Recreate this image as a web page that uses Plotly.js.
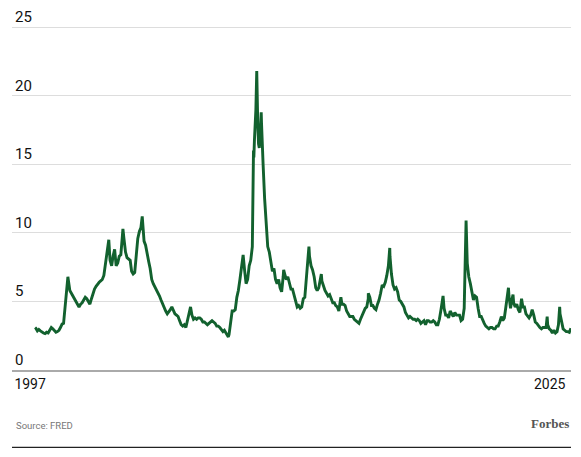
<!DOCTYPE html>
<html><head><meta charset="utf-8">
<script src="https://cdn.plot.ly/plotly-3.0.1.min.js"></script>
<style>html,body{margin:0;padding:0;background:#fff;} #chart{width:581px;height:457px;}</style>
</head><body><div id="chart"></div>
<script>
// High-yield spread (%), mid-month readings, Jan 1997 .. Nov 2025
const firstYear = 1997;
const monthlyValues = [
  3.05,2.85,2.95,2.85,2.75,2.7,2.65,2.75,2.7,2.95,3.1,3.0,        // 1997
  2.85,2.75,2.8,2.9,3.1,3.35,3.4,4.6,5.6,6.6,5.8,5.6,             // 1998
  5.4,5.1,5.0,4.7,4.6,4.8,4.9,5.1,5.3,5.2,5.0,4.8,                // 1999
  5.2,5.6,5.9,6.1,6.3,6.4,6.5,6.6,6.9,7.8,8.6,9.2,                // 2000
  8.0,7.6,8.3,8.8,7.6,7.8,8.3,8.4,9.8,9.6,8.6,8.2,                // 2001
  8.1,8.0,7.2,7.0,7.1,8.2,9.6,10.1,10.4,11.0,9.4,9.1,             // 2002
  8.6,7.9,7.4,6.6,6.3,6.1,5.9,5.6,5.4,5.1,4.8,4.5,                // 2003
  4.3,4.1,4.3,4.4,4.6,4.3,4.1,4.0,3.9,3.6,3.3,3.2,                // 2004
  3.3,3.1,3.6,4.2,4.5,4.0,3.7,3.8,3.7,3.8,3.8,3.7,                // 2005
  3.5,3.5,3.4,3.3,3.4,3.5,3.6,3.5,3.4,3.2,3.2,3.1,                // 2006
  2.9,2.8,2.9,2.7,2.6,2.6,3.6,4.3,4.3,4.4,5.3,5.8,                // 2007
  6.6,7.4,8.2,7.3,6.3,6.6,7.6,8.0,9.0,15.5,18.2,19.5,             // 2008
  16.5,17.0,18.0,15.0,12.5,10.8,9.0,8.6,7.8,7.2,7.4,6.6,          // 2009
  6.3,6.6,6.0,5.7,6.8,7.0,6.6,6.8,6.3,5.9,5.9,5.5,                // 2010
  4.9,4.6,4.7,4.5,4.6,5.2,5.3,6.8,7.6,8.3,7.6,7.3,                // 2011
  6.8,6.0,5.8,6.0,6.7,6.5,6.1,5.8,5.6,5.4,5.5,5.2,                // 2012
  4.9,4.9,4.7,4.6,4.3,5.1,4.8,4.8,4.7,4.3,4.1,3.9,                // 2013
  3.9,3.9,3.7,3.6,3.5,3.4,3.7,4.0,4.3,4.5,4.6,5.2,                // 2014
  5.3,4.7,4.7,4.5,4.4,4.8,5.1,5.6,6.2,6.1,6.4,6.9,                // 2015
  7.6,8.3,7.0,6.2,5.9,6.0,5.7,5.1,5.0,4.8,4.6,4.2,                // 2016
  4.0,3.8,3.9,3.8,3.7,3.7,3.6,3.7,3.6,3.4,3.5,3.6,                // 2017
  3.3,3.6,3.6,3.5,3.5,3.6,3.5,3.3,3.3,3.7,4.4,5.2,                // 2018
  4.5,4.0,4.0,3.8,4.3,4.1,3.9,4.2,4.0,4.0,4.0,3.6,                // 2019
  3.7,4.5,8.5,7.8,6.8,6.3,5.6,5.1,5.4,5.3,4.5,3.9,                // 2020
  3.9,3.6,3.4,3.2,3.1,3.0,3.1,3.1,3.0,3.0,3.2,3.2,                // 2021
  3.5,3.9,3.6,3.8,4.6,5.7,5.4,4.5,5.2,4.9,4.6,4.8,                // 2022
  4.4,4.2,4.9,4.6,4.6,4.1,3.9,3.8,4.0,4.4,4.0,3.5,                // 2023
  3.4,3.2,3.1,3.0,3.1,3.1,3.1,3.3,3.0,2.9,2.7,2.9,                // 2024
  2.7,2.8,3.3,4.1,3.4,3.0,2.9,2.8,2.8,2.75,3.05                   // 2025
];
// Short-lived extremes between the mid-month readings
const spikeDates = ['1996-12-31','1998-10-08','2000-12-21','2001-09-25','2002-10-10','2005-05-18',
  '2007-06-01','2008-03-18','2008-10-08','2008-10-27','2008-11-24','2008-12-11','2008-12-31',
  '2009-01-30','2009-03-09','2009-03-26','2010-05-25','2011-10-04','2012-06-04','2013-06-24',
  '2014-12-16','2016-02-11','2018-12-26','2020-03-23','2022-07-05','2022-10-03','2023-03-20',
  '2024-08-05','2025-04-08'];
const spikeValues = [3.1,6.8,9.5,10.3,11.2,4.6,
  2.41,8.4,16.0,16.8,19.0,21.8,18.0,
  16.2,18.8,16.0,7.3,9.0,7.0,5.3,
  5.6,8.9,5.4,10.9,6.0,5.5,5.2,
  3.9,4.6];
const tickYears = ['1997','2025'];
const yTicks = [0,5,10,15,20,25];

const pts = [];
monthlyValues.forEach((v,i)=>{
  const y = firstYear + Math.floor(i/12);
  const m = String(i%12+1).padStart(2,'0');
  pts.push([`${y}-${m}-15`, v]);
});
spikeDates.forEach((d,i)=>pts.push([d, spikeValues[i]]));
pts.sort((a,b)=>a[0]<b[0]?-1:a[0]>b[0]?1:0);

const trace = {
  x: pts.map(p=>p[0]), y: pts.map(p=>p[1]),
  type:'scatter', mode:'lines',
  line:{color:'#12612e', width:2.9},
  hoverinfo:'skip'
};

const layout = {
  width:581, height:457,
  margin:{l:12, r:10, t:6, b:87, pad:0},
  paper_bgcolor:'#ffffff', plot_bgcolor:'#ffffff',
  showlegend:false,
  font:{family:'Roboto, sans-serif', color:'#111'},
  xaxis:{
    type:'date', range:['1995-10-04','2025-11-17'],
    tickvals: tickYears.map(y=>y+'-01-01'), ticktext: tickYears,
    showgrid:false, zeroline:false, showline:true, linecolor:'#aaaaaa', linewidth:2,
    ticks:'', tickfont:{size:14, color:'#111'}, ticklabelshift:-5
  },
  yaxis:{
    range:[0,26.55], tickvals:yTicks, ticktext:yTicks.map(String),
    ticklabelposition:'inside top',
    showgrid:true, gridcolor:'#dddddd', gridwidth:1,
    zeroline:false, showline:false, ticks:'',
    tickfont:{size:15, color:'#111'}
  },
  shapes:[{type:'line', xref:'paper', yref:'paper', x0:0, x1:1, y0:-0.2128, y1:-0.2128,
           line:{color:'#222', width:1.2}}],
  annotations:[
    {xref:'paper', yref:'paper', x:0, y:0, xanchor:'left', yanchor:'middle', xshift:2, yshift:-55,
     text:'Source: FRED', showarrow:false, font:{size:9.5, color:'#777', family:'Roboto, sans-serif'}},
    {xref:'paper', yref:'paper', x:1, y:0, xanchor:'right', yanchor:'middle', yshift:-53,
     text:'<b>Forbes</b>', showarrow:false, font:{size:13, color:'#555', family:'Liberation Serif, serif'}}
  ]
};
Plotly.newPlot('chart', [trace], layout, {displayModeBar:false, staticPlot:true});
</script>
</body></html>
